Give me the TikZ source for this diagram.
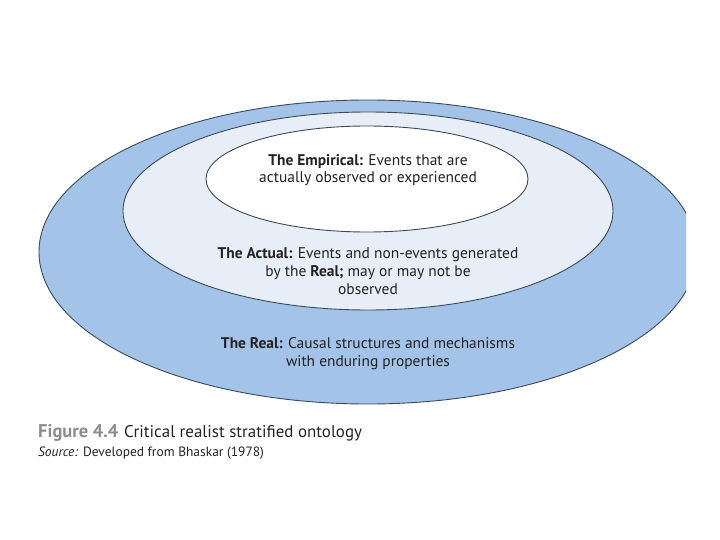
\documentclass[tikz,border=0pt]{standalone}
\usepackage{fontspec}
\setmainfont{PT Sans}
\usetikzlibrary{positioning}
\definecolor{realblue}{HTML}{A3C4E8}
\definecolor{actualpale}{HTML}{E8EEF8}
\definecolor{rimgray}{HTML}{3C4A58}
\definecolor{figgray}{HTML}{8C8C8C}
\definecolor{inktext}{HTML}{222222}
\tikzset{
    layer/.style={draw=rimgray,line width=0.9bp},
    stratum/.style={align=center,text=inktext,inner sep=0pt,font=\fontsize{15.5}{17.8}\selectfont},
    capline/.style={anchor=west,inner sep=0pt,text=inktext}
}
\begin{document}
\begin{tikzpicture}[x=1bp,y=-1bp]
    \useasboundingbox (0,0) rectangle (720,540);
    % the three strata, outermost first
    \begin{scope}
        \clip (0,0) rectangle (686,540);
        \draw[layer,fill=realblue] (368,252) ellipse [x radius=329bp, y radius=152bp];
    \end{scope}
    \draw[layer,fill=actualpale] (368,211) ellipse [x radius=245bp, y radius=99bp];
    \draw[layer,fill=white] (367,179) ellipse [x radius=161bp, y radius=53bp];

    \node[stratum] (empirical) at (368,170) {\textbf{The Empirical:} Events that are\\actually observed or experienced};
    \node[stratum] (actual) at (368,271) {\textbf{The Actual:} Events and non-events generated\\by the \textbf{Real;} may or may not be\\observed};
    \node[stratum] (real) at (368,354) {\textbf{The Real:} Causal structures and mechanisms\\with enduring properties};

    % caption
    \node[capline,font=\fontsize{17}{18}\selectfont] (caption) at (38,433) {{\color{figgray}\fontsize{18.5}{18}\selectfont\textbf{Figure 4.4}}\hspace{6bp}Critical realist stratified ontology};
    \node[capline,font=\fontsize{13.5}{15}\selectfont,below=11bp of caption.south west,anchor=west] (source) {\textit{Source:} Developed from Bhaskar (1978)};
\end{tikzpicture}
\end{document}
